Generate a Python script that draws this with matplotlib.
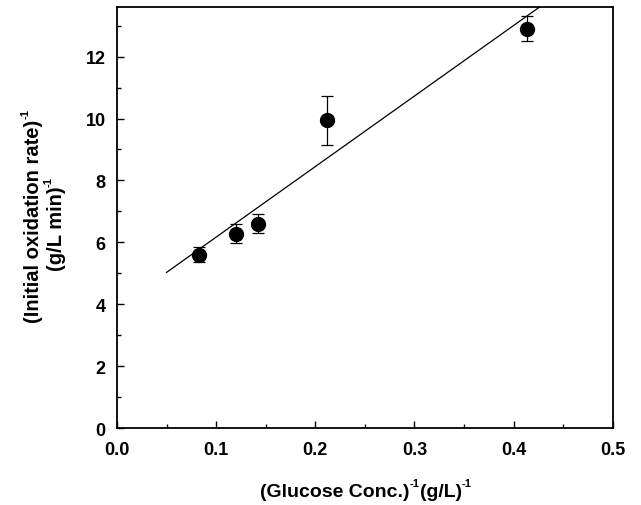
import matplotlib
matplotlib.use("Agg")
import numpy as np
import matplotlib.pyplot as plt
from matplotlib.ticker import MultipleLocator

plt.rcParams['font.family'] = ['Liberation Sans', 'DejaVu Sans']

# data
inv_glucose = [0.083, 0.120, 0.142, 0.212, 0.413]
inv_rate = [5.6, 6.28, 6.6, 9.94, 12.9]
rate_err = [0.25, 0.3, 0.3, 0.8, 0.4]
fit_x = [0.05, 0.43]
fit_y = [5.03, 13.69]
x_ticks = [0.0, 0.1, 0.2, 0.3, 0.4, 0.5]
x_ticklabels = ['0.0', '0.1', '0.2', '0.3', '0.4', '0.5']
y_ticks = [0, 2, 4, 6, 8, 10, 12]
y_ticklabels = ['0', '2', '4', '6', '8', '10', '12']

W, H = 641, 506
fig = plt.figure(figsize=(W / 100, H / 100), dpi=100)
ax = fig.add_axes([0.1825, 0.152, 0.7735, 0.832])

ax.plot(fit_x, fit_y, color='black', lw=0.9)
ax.errorbar(inv_glucose, inv_rate, yerr=rate_err, fmt='o', color='black',
            markersize=10, ecolor='black', elinewidth=0.9, capsize=4, capthick=0.9)

ax.set_xlim(0, 0.5)
ax.set_ylim(0, 13.6)
ax.xaxis.set_minor_locator(MultipleLocator(0.05))
ax.yaxis.set_minor_locator(MultipleLocator(1))
ax.set_xticks(x_ticks)
ax.set_xticklabels(x_ticklabels, fontweight='bold')
ax.set_yticks(y_ticks)
ax.set_yticklabels(y_ticklabels, fontweight='bold')
ax.tick_params(which='both', direction='in', top=False, right=False, width=1)
ax.tick_params(which='major', length=5, labelsize=13)
ax.tick_params(axis='x', which='major', pad=9)
ax.tick_params(axis='y', which='major', pad=8)
ax.tick_params(which='minor', length=3)
for s in ax.spines.values():
    s.set_linewidth(1.3)

renderer = fig.canvas.get_renderer()


def draw_runs(runs, cx, cy, rotation):
    """Draw text runs (text, size, rise_px) centred at pixel (cx, cy from top)."""
    widths = []
    for txt, size, rise in runs:
        t = fig.text(0, 0, txt, fontsize=size, fontweight='bold')
        widths.append(t.get_window_extent(renderer).width)
        t.remove()
    r = np.deg2rad(rotation)
    d = np.array([np.cos(r), np.sin(r)])
    n = np.array([-np.sin(r), np.cos(r)])
    anchor = np.array([cx, H - cy])
    pos = -sum(widths) / 2
    for (txt, size, rise), w in zip(runs, widths):
        p = anchor + pos * d + rise * n
        fig.text(p[0] / W, p[1] / H, txt, fontsize=size, fontweight='bold',
                 ha='left', va='baseline', rotation=rotation,
                 rotation_mode='anchor')
        pos += w


SUP = 8
RISE = 10
# x label
draw_runs([('(Glucose Conc.)', 14, 0), ('-1', SUP, RISE),
           ('(g/L)', 14, 0), ('-1', SUP, RISE)], 366, 497, 0)
# y label, two lines
draw_runs([('(Initial oxidation rate)', 14.5, 0), ('-1', SUP, RISE)], 39, 216, 90)
draw_runs([('(g/L min)', 14.5, 0), ('-1', SUP, RISE)], 62, 224, 90)

fig.savefig('out.png', dpi=100)
